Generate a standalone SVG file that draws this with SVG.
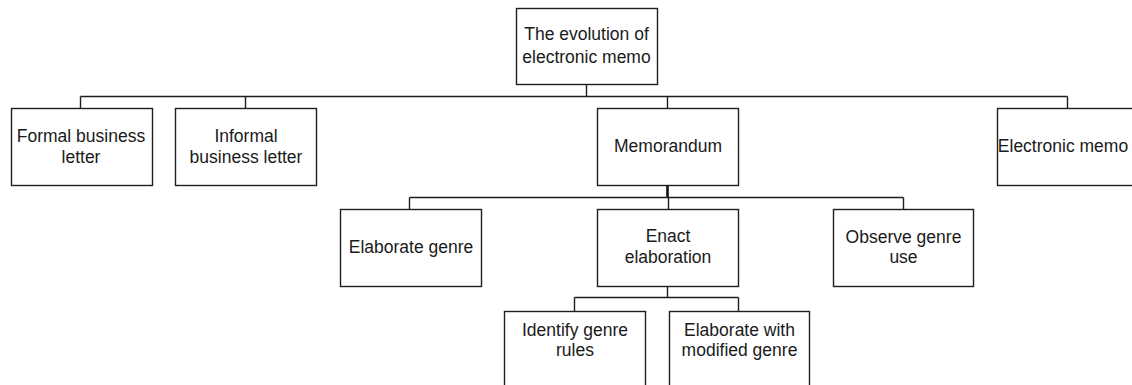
<svg xmlns="http://www.w3.org/2000/svg" width="1132" height="385" viewBox="0 0 1132 385">
  <style>
    .box { fill: #ffffff; stroke: #1e1e1e; stroke-width: 1.4; }
    .lbl { font-family: "Liberation Sans", Arial, sans-serif; font-size: 17.5px; fill: #1a1a1a; text-anchor: middle; }
    .wire { fill: none; stroke: #1e1e1e; stroke-width: 1.4; }
    .wire-bold { fill: none; stroke: #111111; stroke-width: 2.6; }
  </style>
  <rect width="1132" height="385" fill="#ffffff"/>

  <g id="connectors">
    <!-- root to first level -->
    <path class="wire" d="M586.5 84 V96.5 M80.5 96.5 H1067.5 M80.5 96.5 V108.5 M245.5 96.5 V108.5 M667.5 96.5 V108.5 M1067.5 96.5 V108.5"/>
    <!-- memorandum to second level -->
    <path class="wire-bold" d="M667.5 185 V197.5"/>
    <path class="wire" d="M409.5 197.5 H903.5 M409.5 197.5 V209.5 M668.5 197.5 V209.5 M903.5 197.5 V209.5"/>
    <!-- enact elaboration to third level -->
    <path class="wire" d="M667.5 286 V297.5 M574.5 297.5 H738.5 M574.5 297.5 V311.5 M738.5 297.5 V311.5"/>
  </g>

  <g id="root">
    <rect class="box" x="516.5" y="8.5" width="141" height="76"/>
    <text class="lbl" x="586.5" y="40">The evolution of</text>
    <text class="lbl" x="586.5" y="63">electronic memo</text>
  </g>

  <g id="formal-letter">
    <rect class="box" x="11.5" y="108.5" width="141" height="77"/>
    <text class="lbl" x="81" y="142">Formal business</text>
    <text class="lbl" x="81" y="162.5">letter</text>
  </g>

  <g id="informal-letter">
    <rect class="box" x="175.5" y="108.5" width="141" height="77"/>
    <text class="lbl" x="246" y="142">Informal</text>
    <text class="lbl" x="246" y="162.5">business letter</text>
  </g>

  <g id="memorandum">
    <rect class="box" x="597.5" y="108.5" width="141" height="77"/>
    <text class="lbl" x="668" y="152">Memorandum</text>
  </g>

  <g id="electronic-memo">
    <rect class="box" x="997.5" y="108.5" width="141" height="77"/>
    <text class="lbl" x="1063" y="152">Electronic memo</text>
  </g>

  <g id="elaborate-genre">
    <rect class="box" x="340.5" y="209.5" width="141" height="77"/>
    <text class="lbl" x="411" y="252.5">Elaborate genre</text>
  </g>

  <g id="enact-elaboration">
    <rect class="box" x="597.5" y="209.5" width="141" height="77"/>
    <text class="lbl" x="668" y="242">Enact</text>
    <text class="lbl" x="668" y="262.5">elaboration</text>
  </g>

  <g id="observe-genre-use">
    <rect class="box" x="833.5" y="209.5" width="140" height="77"/>
    <text class="lbl" x="903.5" y="242.5">Observe genre</text>
    <text class="lbl" x="903.5" y="262.5">use</text>
  </g>

  <g id="identify-genre-rules">
    <rect class="box" x="504.5" y="311.5" width="141" height="77"/>
    <text class="lbl" x="575" y="336">Identify genre</text>
    <text class="lbl" x="575" y="356">rules</text>
  </g>

  <g id="elaborate-modified">
    <rect class="box" x="669.5" y="311.5" width="140" height="77"/>
    <text class="lbl" x="739.5" y="336">Elaborate with</text>
    <text class="lbl" x="739.5" y="356">modified genre</text>
  </g>
</svg>
